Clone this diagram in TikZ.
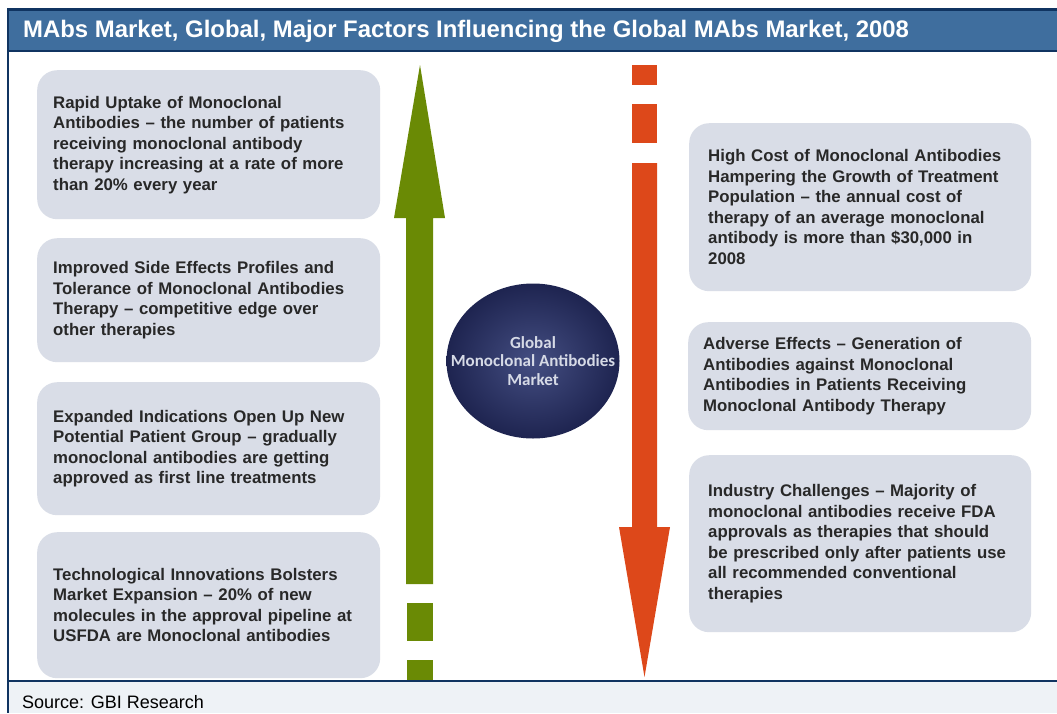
\documentclass[tikz,border=0pt]{standalone}
\usepackage{fontspec}
\setmainfont{Liberation Sans}
\newfontfamily\circfont{Carlito}
\usetikzlibrary{shapes.geometric}

\definecolor{frame}{RGB}{16,52,97}
\definecolor{titlebar}{RGB}{63,110,158}
\definecolor{srcbg}{RGB}{238,242,246}
\definecolor{boxfill}{RGB}{217,221,231}
\definecolor{boxtext}{RGB}{40,40,40}
\definecolor{upgreen}{RGB}{106,138,5}
\definecolor{downred}{RGB}{221,72,26}
\definecolor{orbin}{RGB}{68,78,130}
\definecolor{orbout}{RGB}{30,36,80}
\definecolor{orbtext}{RGB}{214,218,230}

\tikzset{
  factor/.style={rounded corners=20pt, fill=boxfill, anchor=north west,
    inner ysep=0pt, align=left, text=boxtext,
    font=\fontsize{16.8}{20.5}\selectfont\bfseries},
  framerule/.style={draw=frame, line width=2.2pt},
}

\begin{document}
\begin{tikzpicture}[x=1pt,y=-1pt]
\useasboundingbox (0,0) rectangle (1057,713);
\fill[white] (0,0) rectangle (1057,713);

% title bar and source strip
\fill[titlebar] (7,9) rectangle (1057,51);
\fill[srcbg] (7,681) rectangle (1057,713);
\draw[framerule] (7,9.5) -- (1057,9.5);
\draw[framerule] (7,51) -- (1057,51);
\draw[framerule] (7,681) -- (1057,681);
\draw[framerule] (7.8,8.4) -- (7.8,713);

\node[anchor=west, text=white, inner sep=0pt, font=\fontsize{23.9}{24}\selectfont\bfseries] (title) at (23,31)
  {MAbs Market, Global, Major Factors Influencing the Global MAbs Market, 2008};
\node[anchor=base west, inner sep=0pt, font=\fontsize{18}{20}\selectfont] (source) at (22,708) {Source: GBI Research};

% upward (drivers) arrow
\fill[upgreen] (406,584) -- (433,584) -- (433,218) -- (445,218) -- (420,65)
  -- (394,218) -- (406,218) -- cycle;
\fill[upgreen] (407,603) rectangle (433,641);
\fill[upgreen] (407,660) rectangle (433,680);

% downward (restraints) arrow
\fill[downred] (632,65) rectangle (657,85);
\fill[downred] (632,104) rectangle (657,143);
\fill[downred] (632,163) -- (657,163) -- (657,527) -- (670,527) -- (644.5,677)
  -- (619,527) -- (632,527) -- cycle;

% central market node
\node[ellipse, minimum width=173pt, minimum height=155pt, inner sep=0pt,
  inner color=orbin, outer color=orbout] (market) at (533,361) {};
\node[align=center, text=orbtext, inner sep=0pt,
  font=\circfont\fontsize{17}{18.5}\selectfont\bfseries] (marketlabel) at (market.center)
  {Global\\Monoclonal Antibodies\\Market};

% drivers
\node[factor, minimum width=343pt, minimum height=149pt, inner xsep=16pt, text width=311pt] (d1) at (37,70)
  {Rapid Uptake of Monoclonal\\Antibodies -- the number of patients\\receiving monoclonal antibody\\therapy increasing at a rate of more\\than 20\% every year};
\node[factor, minimum width=343pt, minimum height=124pt, inner xsep=16pt, text width=311pt] (d2) at (37,238)
  {Improved Side Effects Profiles and\\Tolerance of Monoclonal Antibodies\\Therapy -- competitive edge over\\other therapies};
\node[factor, minimum width=343pt, minimum height=133pt, inner xsep=16pt, text width=311pt] (d3) at (37,382)
  {Expanded Indications Open Up New\\Potential Patient Group -- gradually\\monoclonal antibodies are getting\\approved as first line treatments};
\node[factor, minimum width=343pt, minimum height=146pt, inner xsep=16pt, text width=311pt] (d4) at (37,532)
  {Technological Innovations Bolsters\\Market Expansion -- 20\% of new\\molecules in the approval pipeline at\\USFDA are Monoclonal antibodies};

% restraints
\node[factor, minimum width=342pt, minimum height=168pt, inner xsep=19pt, text width=304pt] (r1) at (689,123)
  {High Cost of Monoclonal Antibodies\\Hampering the Growth of Treatment\\Population -- the annual cost of\\therapy of an average monoclonal\\antibody is more than \$30,000 in\\2008};
\node[factor, minimum width=343pt, minimum height=108pt, inner xsep=15pt, text width=313pt] (r2) at (688,322)
  {Adverse Effects -- Generation of\\Antibodies against Monoclonal\\Antibodies in Patients Receiving\\Monoclonal Antibody Therapy};
\node[factor, minimum width=342pt, minimum height=177pt, inner xsep=19pt, text width=304pt] (r3) at (689,455)
  {Industry Challenges -- Majority of\\monoclonal antibodies receive FDA\\approvals as therapies that should\\be prescribed only after patients use\\all recommended conventional\\therapies};
\end{tikzpicture}
\end{document}
